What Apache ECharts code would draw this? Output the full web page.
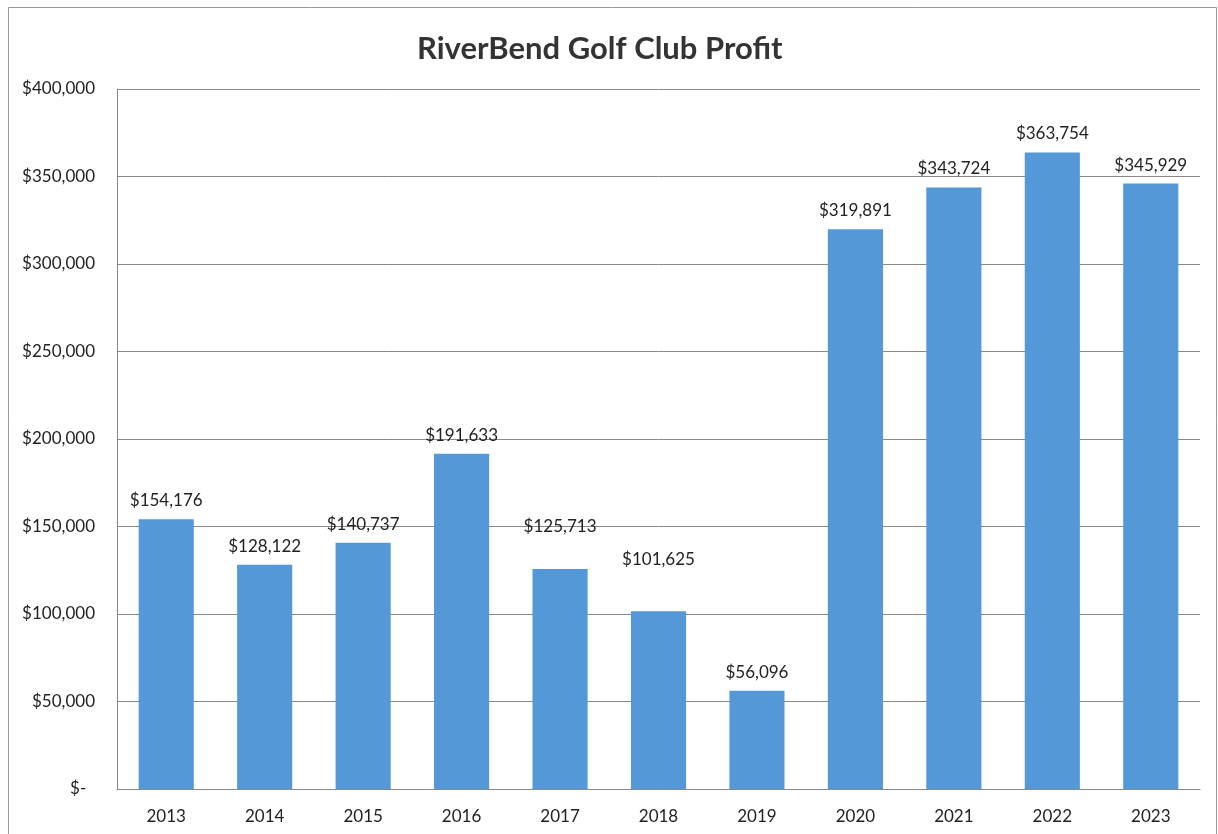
<!DOCTYPE html>
<html>
<head>
<meta charset="utf-8">
<script src="https://cdn.jsdelivr.net/npm/echarts@6/dist/echarts.min.js"></script>
<style>
  html, body { margin: 0; padding: 0; background: #fff; }
  #main { width: 1218px; height: 834px; }
</style>
</head>
<body>
<div id="main"></div>
<script>
// data
var years = ['2013', '2014', '2015', '2016', '2017', '2018', '2019', '2020', '2021', '2022', '2023'];
var profit = [154176, 128122, 140737, 191633, 125713, 101625, 56096, 319891, 343724, 363754, 345929];
var yTicks = [0, 50000, 100000, 150000, 200000, 250000, 300000, 350000, 400000];

// a couple of labels were dragged up in the original
var labelLift = { 4: 24, 5: 33 };

function money(v) {
    if (v === 0) return '$-  ';
    return '$' + v.toLocaleString('en-US');
}

var chart = echarts.init(document.getElementById('main'));

chart.setOption({
    backgroundColor: '#fff',
    textStyle: { fontFamily: 'Lato, "Open Sans", sans-serif' },
    title: {
        text: 'RiverBend Golf Club Profit',
        left: 412,
        top: 28,
        textStyle: { fontSize: 31, fontWeight: 'bold', color: '#333', fontFamily: 'Lato, "Open Sans", sans-serif' }
    },
    graphic: [{
        type: 'rect',
        shape: { x: 8.5, y: 7.5, width: 1208, height: 840 },
        style: { fill: null, stroke: '#999', lineWidth: 1 },
        silent: true
    }],
    grid: { left: 117, right: 18, top: 89, bottom: 45 },
    xAxis: {
        type: 'category',
        data: years,
        axisLine: { lineStyle: { color: '#888', width: 1 } },
        axisTick: { show: false },
        axisLabel: { color: '#222', fontSize: 17, margin: 19 }
    },
    yAxis: {
        type: 'value',
        min: yTicks[0],
        max: yTicks[yTicks.length - 1],
        interval: yTicks[1] - yTicks[0],
        axisLine: { show: true, lineStyle: { color: '#888', width: 1 } },
        axisTick: { show: false },
        splitLine: { lineStyle: { color: '#888', width: 1 } },
        axisLabel: { color: '#222', fontSize: 17, margin: 22, formatter: money }
    },
    series: [{
        type: 'bar',
        barWidth: '56%',
        itemStyle: { color: '#5598d8' },
        data: profit.map(function (v, i) {
            var d = { value: v };
            if (labelLift[i]) d.label = { offset: [0, -labelLift[i]] };
            return d;
        }),
        label: {
            show: true,
            position: 'top',
            distance: 10,
            color: '#222',
            fontSize: 17,
            formatter: function (p) { return money(p.value); }
        }
    }]
});
</script>
</body>
</html>
